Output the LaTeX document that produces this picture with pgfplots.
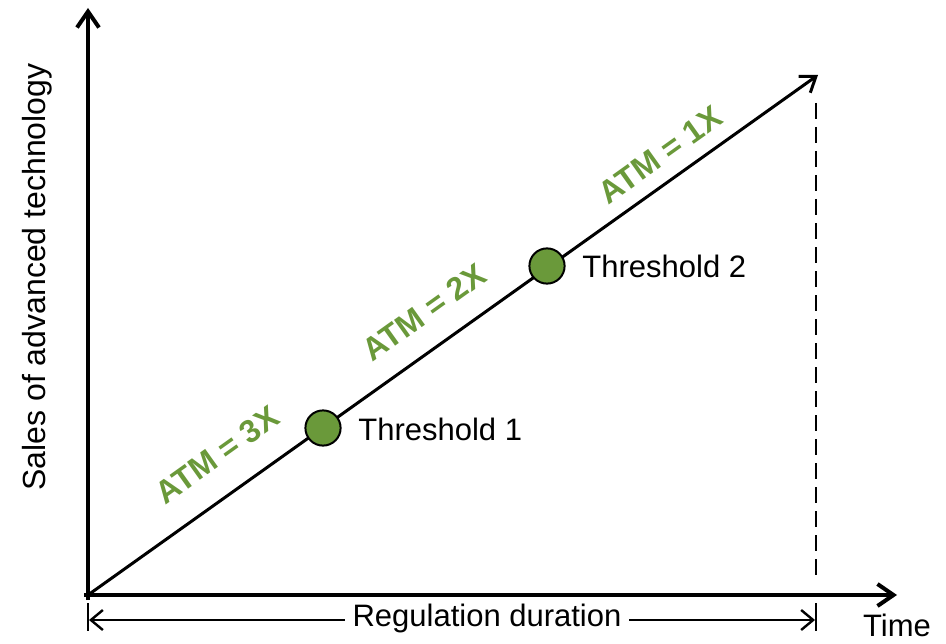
\documentclass[border=0pt]{standalone}
\usepackage{pgfplots}
\pgfplotsset{compat=1.18}
\usepackage{fontspec}
\setmainfont{Liberation Sans}
\usetikzlibrary{arrows.meta}
\definecolor{atmgreen}{RGB}{106,153,58}
\begin{document}
\begin{tikzpicture}
\begin{axis}[
  scale only axis, width=473pt, height=321pt,
  xmin=0, xmax=946, ymin=0, ymax=642,
  hide axis, clip=false,
]
\path (axis cs:0,0) rectangle (axis cs:946,642);
% axes
\draw[line width=2pt, -{Straight Barb[length=8pt,width=11pt,line width=2pt]}] (axis cs:88,42) -- (axis cs:88,634);
\draw[line width=2pt, -{Straight Barb[length=8pt,width=11pt,line width=2pt]}] (axis cs:84,47) -- (axis cs:897,47);
% data line
\addplot[black, line width=1.5pt, -{Straight Barb[length=7pt,width=10pt,line width=1.5pt]}] coordinates {(88,47) (818,567)};
% thresholds
\addplot[only marks, mark=*, mark size=8.8pt, mark options={fill=atmgreen, draw=black, line width=1pt}] coordinates {(323,214) (547,376)};
% dashed vertical
\draw[line width=1.4pt, dash pattern=on 8pt off 4pt] (axis cs:816,539) -- (axis cs:816,67);
% regulation duration
\draw[line width=1.2pt, {Straight Barb[length=6pt,width=10pt,line width=1.2pt]}-{Straight Barb[length=6pt,width=10pt,line width=1.2pt]}] (axis cs:89,22) -- (axis cs:815,22);
\draw[line width=1.4pt] (axis cs:88,39) -- (axis cs:88,11);
\draw[line width=1.4pt] (axis cs:816,39) -- (axis cs:816,11);
\node[fill=white, inner xsep=4pt, inner ysep=1pt, font=\fontsize{15.5}{18}\selectfont] at (axis cs:487,24) {Regulation duration};
\node[font=\fontsize{15.5}{18}\selectfont, anchor=south] at (axis cs:897,-2) {Time};
% y label
\node[rotate=90, font=\fontsize{16}{18}\selectfont] at (axis cs:37,365) {Sales of advanced technology};
% threshold labels
\node[anchor=west, inner sep=0pt, font=\fontsize{15.5}{18}\selectfont] at (axis cs:358,213) {Threshold 1};
\node[anchor=west, inner sep=0pt, font=\fontsize{15.5}{18}\selectfont] at (axis cs:582,376) {Threshold 2};
% ATM labels
\node[rotate=35.5, text=atmgreen, font=\bfseries\fontsize{16}{18}\selectfont] at (axis cs:217,187) {ATM = 3X};
\node[rotate=35.5, text=atmgreen, font=\bfseries\fontsize{16}{18}\selectfont] at (axis cs:424,330) {ATM = 2X};
\node[rotate=35.5, text=atmgreen, font=\bfseries\fontsize{16}{18}\selectfont] at (axis cs:660,487) {ATM = 1X};
\end{axis}
\end{tikzpicture}
\end{document}
